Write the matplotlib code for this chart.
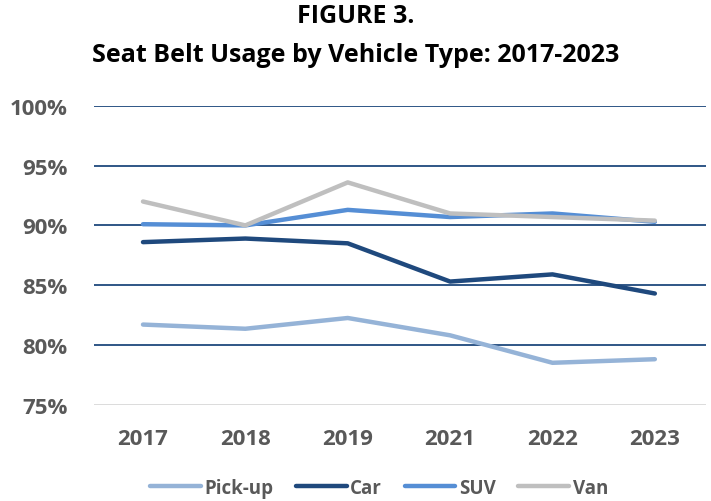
import matplotlib.pyplot as plt
import numpy as np

years = ["2017", "2018", "2019", "2021", "2022", "2023"]
pickup = [81.7, 81.35, 82.25, 80.8, 78.5, 78.8]
car = [88.6, 88.9, 88.5, 85.3, 85.9, 84.3]
suv = [90.1, 90.0, 91.3, 90.7, 91.0, 90.3]
van = [92.0, 90.0, 93.6, 91.0, 90.7, 90.4]

names = ["Pick-up", "Car", "SUV", "Van"]
colors = ["#95B3D7", "#1F497D", "#558ED5", "#BFBFBF"]

plt.rcParams['font.family'] = ['Open Sans', 'DejaVu Sans']

fig = plt.figure(figsize=(7.11, 5.02), dpi=100)
ax = fig.add_axes([0.132, 0.192, 0.861, 0.595])

x = np.arange(len(years))
for vals, name, c in zip([pickup, car, suv, van], names, colors):
    ax.plot(x, vals, color=c, lw=3.2, solid_capstyle='round', label=name)

ax.set_ylim(75, 100)
ax.set_xlim(-0.48, 5.5)
ticks = [75, 80, 85, 90, 95, 100]
ax.set_yticks(ticks)
ax.set_yticklabels([f"{t}%" for t in ticks])
for t in ticks[1:]:
    ax.axhline(t, color="#1F497D", lw=1.3, zorder=0)
ax.axhline(75, color="#D9D9D9", lw=1.3, zorder=0)

ax.set_xticks(x)
ax.set_xticklabels(years)
for s in ax.spines.values():
    s.set_visible(False)
ax.tick_params(length=0, labelsize=16, labelcolor="#595959")
ax.tick_params(axis='y', pad=19)
ax.tick_params(axis='x', pad=17)
for lab in ax.get_xticklabels() + ax.get_yticklabels():
    lab.set_fontweight('bold')

fig.text(0.5, 0.968, "FIGURE 3.", ha='center', va='center', fontsize=18, fontweight='bold')
fig.text(0.5, 0.89, "Seat Belt Usage by Vehicle Type: 2017-2023", ha='center', va='center',
         fontsize=18, fontweight='bold')

leg = fig.legend(loc='center', bbox_to_anchor=(0.533, 0.026), ncol=4, frameon=False,
                 handlelength=2.7, handletextpad=0.2, columnspacing=1.2,
                 prop={'weight': 'bold', 'size': 13.5})
for t in leg.get_texts():
    t.set_color("#595959")

fig.savefig("out.png", dpi=100)
